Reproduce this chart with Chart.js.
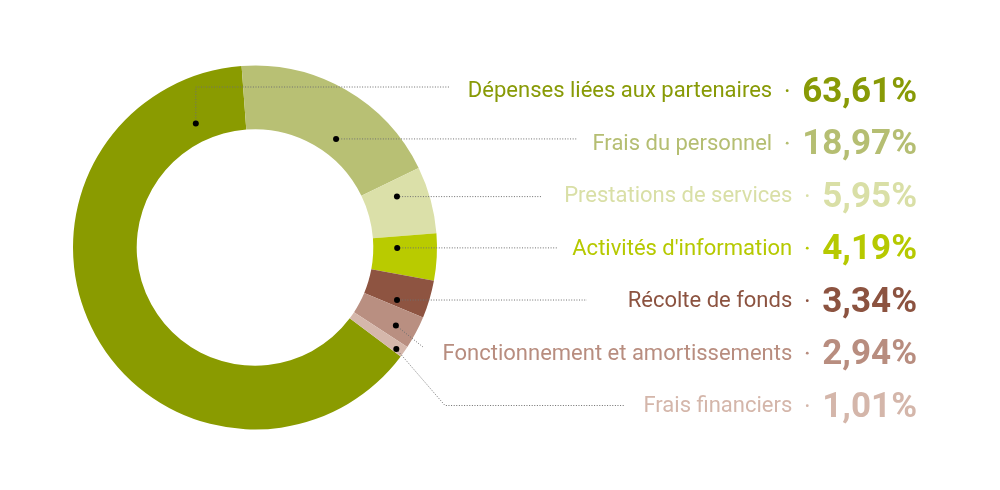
<!DOCTYPE html>
<html lang="fr">
<head>
<meta charset="utf-8">
<title>Répartition des dépenses</title>
<script src="https://cdn.jsdelivr.net/npm/chart.js@4.4.1/dist/chart.umd.min.js"></script>
<style>
  html, body { margin: 0; padding: 0; background: #ffffff; }
  #wrap { width: 1000px; height: 490px; }
</style>
</head>
<body>
<div id="wrap"><canvas id="chart" width="1000" height="490"></canvas></div>
<script>
// Données
const categories = [
    'Dépenses liées aux partenaires',
    'Frais du personnel',
    'Prestations de services',
    "Activités d'information",
    'Récolte de fonds',
    'Fonctionnement et amortissements',
    'Frais financiers'
];
const values = [63.61, 18.97, 5.95, 4.19, 3.34, 2.94, 1.01];
const valueLabels = ['63,61%', '18,97%', '5,95%', '4,19%', '3,34%', '2,94%', '1,01%'];
const segmentColors = ['#8a9b00', '#b8c074', '#dbe0a9', '#b9cb00', '#8e5441', '#b98f81', '#d5b7ab'];
const textColors = ['#889a06', '#b5be72', '#d9dfa6', '#b6c900', '#8c5340', '#b88d7f', '#d4b6aa'];

// Mise en page des étiquettes (colonne de droite)
const textRight = 917;
const firstBaseline = 101.7;
const rowStep = 52.5;
// repère dans le segment : fraction de l'angle, fraction de l'épaisseur
const dotPlace = [[0.907, 0.30], [0.60, 0.27], [0.29, 0.51], [0.31, 0.375], [0.81, 0.52], [0.60, 0.67], [0.70, 0.875]];
// tracé des traits pointillés : [coude x, coude y, fin x] (null = trait horizontal direct)
const leaders = [
    { up: 87, endX: 450 },
    { endX: 577 },
    { endX: 541 },
    { endX: 558 },
    { endX: 587 },
    { diag: [423, 347] },
    { diag: [445, 405.5], endX: 625 }
];

const labelFont = '400 22px Roboto';
const valueFont = '700 35px Roboto';

// Plugin pour les étiquettes et les traits
const calloutPlugin = {
    id: 'callouts',
    afterDraw(chart) {
        const ctx = chart.ctx;
        const arcs = chart.getDatasetMeta(0).data;
        arcs.forEach((arc, i) => {
            const p = arc.getProps(['x', 'y', 'startAngle', 'endAngle', 'innerRadius', 'outerRadius'], true);
            const a = p.startAngle + dotPlace[i][0] * (p.endAngle - p.startAngle);
            const r = p.innerRadius + dotPlace[i][1] * (p.outerRadius - p.innerRadius);
            const dx = p.x + Math.cos(a) * r;
            const dy = p.y + Math.sin(a) * r;

            // trait pointillé
            const L = leaders[i];
            ctx.save();
            ctx.strokeStyle = '#6f6f6f';
            ctx.lineWidth = 1;
            ctx.setLineDash([1, 1.6]);
            ctx.beginPath();
            ctx.moveTo(dx, dy);
            if (L.up !== undefined) {
                ctx.lineTo(dx, L.up);
                ctx.lineTo(L.endX, L.up);
            } else if (L.diag) {
                ctx.lineTo(L.diag[0], L.diag[1]);
                if (L.endX) ctx.lineTo(L.endX, L.diag[1]);
            } else {
                ctx.lineTo(L.endX, dy);
            }
            ctx.stroke();
            ctx.restore();

            // point noir
            ctx.save();
            ctx.fillStyle = '#000000';
            ctx.beginPath();
            ctx.arc(dx, dy, 3, 0, Math.PI * 2);
            ctx.fill();
            ctx.restore();

            // textes
            const base = firstBaseline + i * rowStep;
            ctx.save();
            ctx.textBaseline = 'alphabetic';
            ctx.textAlign = 'right';
            ctx.font = valueFont;
            ctx.fillStyle = textColors[i];
            ctx.fillText(valueLabels[i], textRight, base);
            const vw = ctx.measureText(valueLabels[i]).width;
            const start = textRight - vw;
            ctx.font = labelFont;
            ctx.fillText(categories[i], start - 30, base - 4.4);
            ctx.beginPath();
            ctx.arc(start - 15, base - 11, 1.4, 0, Math.PI * 2);
            ctx.fill();
            ctx.restore();
        });
    }
};

const ctx = document.getElementById('chart').getContext('2d');
const chart = new Chart(ctx, {
    type: 'doughnut',
    data: {
        labels: categories,
        datasets: [{
            data: values,
            backgroundColor: segmentColors,
            borderWidth: 0
        }]
    },
    options: {
        responsive: false,
        animation: false,
        events: [],
        rotation: 126.8,
        cutout: '65%',
        layout: { padding: { left: 73, right: 563, top: 65.5, bottom: 60.5 } },
        plugins: {
            legend: { display: false },
            tooltip: { enabled: false }
        }
    },
    plugins: [calloutPlugin]
});
</script>
</body>
</html>
